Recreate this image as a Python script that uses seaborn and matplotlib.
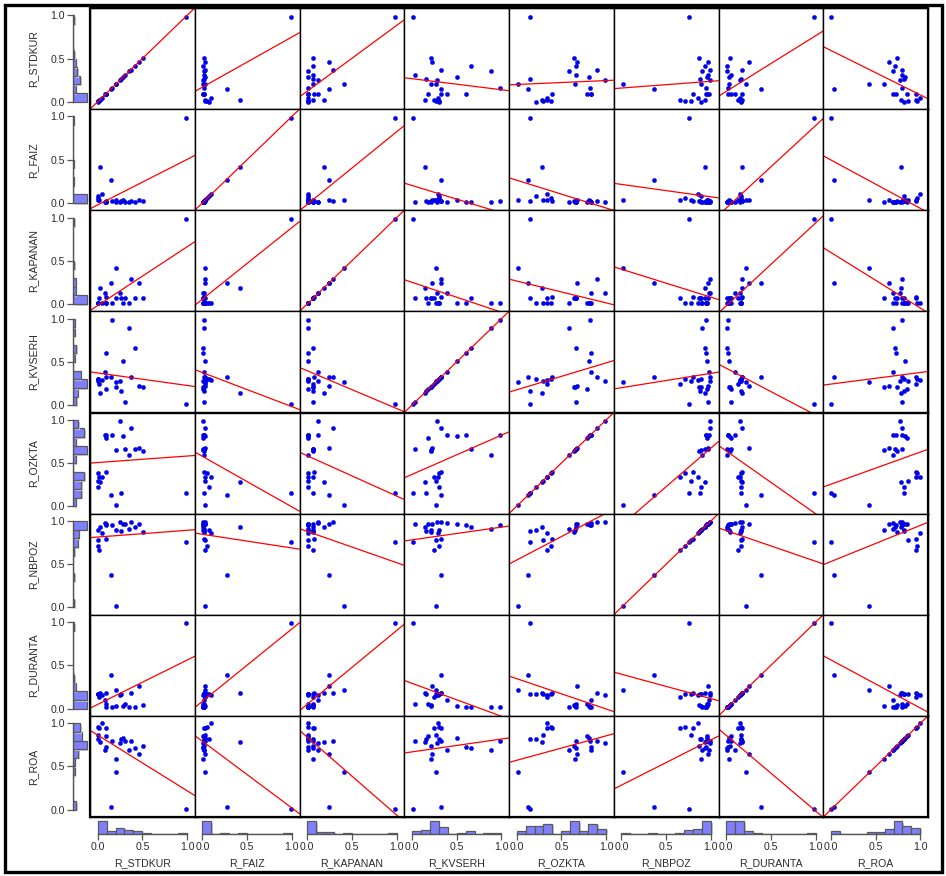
import numpy as np
import pandas as pd
import matplotlib
matplotlib.use("Agg")
import matplotlib.pyplot as plt
import matplotlib.patheffects as pe
from matplotlib.patches import Rectangle
import seaborn as sns

sns.set_style("white")
plt.rcParams['font.family'] = ['Liberation Sans', 'DejaVu Sans']

variables = ["R_STDKUR", "R_FAIZ", "R_KAPANAN", "R_KVSERH", "R_OZKTA", "R_NBPOZ", "R_DURANTA", "R_ROA"]

R_STDKUR = [0.047, 0.006, 0.021, 0.092, 0.092, 0.006, 0.002, 0.025, 0.157, 0.092, 0.085, 0.266,
            0.281, 0.247, 0.311, 0.368, 0.413, 0.51, 0.353, 0.458, 0.202, 0.202, 0.153, 0.983]
R_FAIZ = [0.098, 0.057, 0.035, 0.02, 0.012, 0.031, 0.077, 0.417, 0.02, 0.012, 0.015, 0.02,
          0.03, 0.01, 0.015, 0.025, 0.01, 0.02, 0.015, 0.028, 0.012, 0.03, 0.27, 0.986]
R_KAPANAN = [0.012, 0.012, 0.07, 0.076, 0.012, 0.012, 0.012, 0.188, 0.012, 0.012, 0.125, 0.07,
             0.012, 0.125, 0.07, 0.29, 0.07, 0.07, 0.012, 0.245, 0.07, 0.413, 0.24, 0.986]
R_KVSERH = [0.29, 0.30, 0.25, 0.32, 0.185, 0.275, 0.306, 0.143, 0.986, 0.604, 0.387, 0.158,
            0.507, 0.278, 0.039, 0.33, 0.66, 0.215, 0.889, 0.222, 0.21, 0.267, 0.33, 0.016]
R_OZKTA = [0.338, 0.383, 0.338, 0.394, 0.785, 0.29, 0.22, 0.286, 0.82, 0.83, 0.83, 0.155,
           0.81, 0.986, 0.665, 0.90, 0.66, 0.64, 0.59, 0.68, 0.65, 0.017, 0.125, 0.155]
R_NBPOZ = [0.86, 0.71, 0.66, 0.795, 0.96, 0.78, 0.89, 0.93, 0.95, 0.95, 0.98, 0.88,
           0.96, 0.99, 0.965, 0.99, 0.93, 0.87, 0.905, 0.97, 0.89, 0.016, 0.37, 0.755]
R_DURANTA = [0.16, 0.17, 0.136, 0.178, 0.054, 0.17, 0.165, 0.178, 0.02, 0.02, 0.095, 0.17,
             0.035, 0.16, 0.054, 0.178, 0.012, 0.04, 0.012, 0.256, 0.035, 0.22, 0.39, 0.986]
R_ROA = [1.0, 0.961, 0.946, 0.95, 0.853, 0.86, 0.814, 0.783, 0.791, 0.729, 0.69, 0.822,
         0.833, 0.775, 0.798, 0.795, 0.717, 0.74, 0.69, 0.647, 0.589, 0.43, 0.035, 0.004]

df = pd.DataFrame({
    "R_STDKUR": R_STDKUR, "R_FAIZ": R_FAIZ, "R_KAPANAN": R_KAPANAN, "R_KVSERH": R_KVSERH,
    "R_OZKTA": R_OZKTA, "R_NBPOZ": R_NBPOZ, "R_DURANTA": R_DURANTA, "R_ROA": R_ROA,
})

W, H = 946, 876
fig = plt.figure(figsize=(W / 100, H / 100), dpi=100)

def ax_px(x0, y0, w, h):
    return fig.add_axes([x0 / W, 1 - (y0 + h) / H, w / W, h / H])

LIM = (-0.085, 1.085)
gl, gr, gt, gb = 90, 928, 8, 817
n = len(variables)
cw = (gr - gl) / n
ch = (gb - gt) / n
bins = np.linspace(0, 1, 11)
fill = "#8080FF"
edge = "#5a5a5a"
txt = "#2a2a2a"
FS = 7.6
shadow = [pe.SimplePatchShadow(offset=(1.2, -1.2), shadow_rgbFace="#c8c8c8", alpha=1.0), pe.Normal()]

for i, yv in enumerate(variables):
    for j, xv in enumerate(variables):
        ax = ax_px(gl + j * cw, gt + i * ch, cw, ch)
        ax.set_xlim(LIM)
        ax.set_ylim(LIM)
        sns.regplot(data=df, x=xv, y=yv, ax=ax, ci=None, truncate=False,
                    scatter_kws=dict(s=9, color="#0000FF", edgecolor="#0000B0", linewidths=0.3, alpha=1),
                    line_kws=dict(color="#FF0000", lw=0.9))
        ax.set_xlim(LIM)
        ax.set_ylim(LIM)
        ax.set_xlabel("")
        ax.set_ylabel("")
        ax.set_xticks([])
        ax.set_yticks([])
        for s in ax.spines.values():
            s.set_visible(True)
            s.set_color("black")
            s.set_linewidth(1.0)

# left histograms
for i, v in enumerate(variables):
    axh = ax_px(73, gt + i * ch, 17, ch)
    counts, _ = np.histogram(df[v], bins=bins)
    sns.histplot(data=df, y=v, bins=bins, ax=axh, color=fill, edgecolor=edge,
                 linewidth=0.9, alpha=1.0)
    for p in axh.patches:
        p.set_path_effects(shadow)
    axh.set_ylim(LIM)
    axh.set_xlim(0, counts.max() * 17 / 13.7)
    axh.set_facecolor("none")
    for k in ["top", "right", "bottom"]:
        axh.spines[k].set_visible(False)
    axh.spines["left"].set_bounds(0, 1)
    axh.spines["left"].set_color("#555555")
    axh.spines["left"].set_linewidth(1.0)
    axh.set_xticks([])
    axh.set_yticks([0, 0.5, 1.0])
    axh.set_yticklabels(["0.0", "0.5", "1.0"])
    axh.tick_params(axis="y", length=4, width=0.9, color="#555555", labelsize=FS,
                    labelcolor=txt, pad=2, left=True)
    axh.set_xlabel("")
    axh.set_ylabel("")
    fig.text(33 / W, 1 - (gt + (i + 0.5) * ch) / H, v, rotation=90, ha="center", va="center",
             fontsize=FS, color=txt)

# bottom histograms
for j, v in enumerate(variables):
    axh = ax_px(gl + j * cw, gb, cw, 17)
    counts, _ = np.histogram(df[v], bins=bins)
    sns.histplot(data=df, x=v, bins=bins, ax=axh, color=fill, edgecolor=edge,
                 linewidth=0.9, alpha=1.0)
    for p in axh.patches:
        p.set_path_effects(shadow)
    axh.set_xlim(LIM)
    axh.set_ylim(0, counts.max() * 17 / 13.0)
    axh.set_facecolor("none")
    for k in ["top", "right", "left"]:
        axh.spines[k].set_visible(False)
    axh.spines["bottom"].set_bounds(0, 1)
    axh.spines["bottom"].set_color("#555555")
    axh.spines["bottom"].set_linewidth(1.0)
    axh.set_yticks([])
    axh.set_xticks([0, 0.5, 1.0])
    axh.set_xticklabels(["0.0", "0.5", "1.0"])
    axh.tick_params(axis="x", length=4, width=0.9, color="#555555", labelsize=FS,
                    labelcolor=txt, pad=2, bottom=True)
    axh.set_xlabel("")
    axh.set_ylabel("")
    fig.text((gl + (j + 0.5) * cw) / W, 1 - 863 / H, v, ha="center", va="center",
             fontsize=FS, color=txt)

# grid outline and outer frame
fig.patches.append(Rectangle((gl / W, 1 - gb / H), (gr - gl) / W, (gb - gt) / H,
                             transform=fig.transFigure, fill=False, ec="black", lw=1.6, zorder=10))
fig.patches.append(Rectangle((4.5 / W, 4.5 / H), (W - 9) / W, (H - 9) / H,
                             transform=fig.transFigure, fill=False, ec="black", lw=2.4, zorder=10))

fig.savefig("out.png", dpi=100, facecolor="white")
